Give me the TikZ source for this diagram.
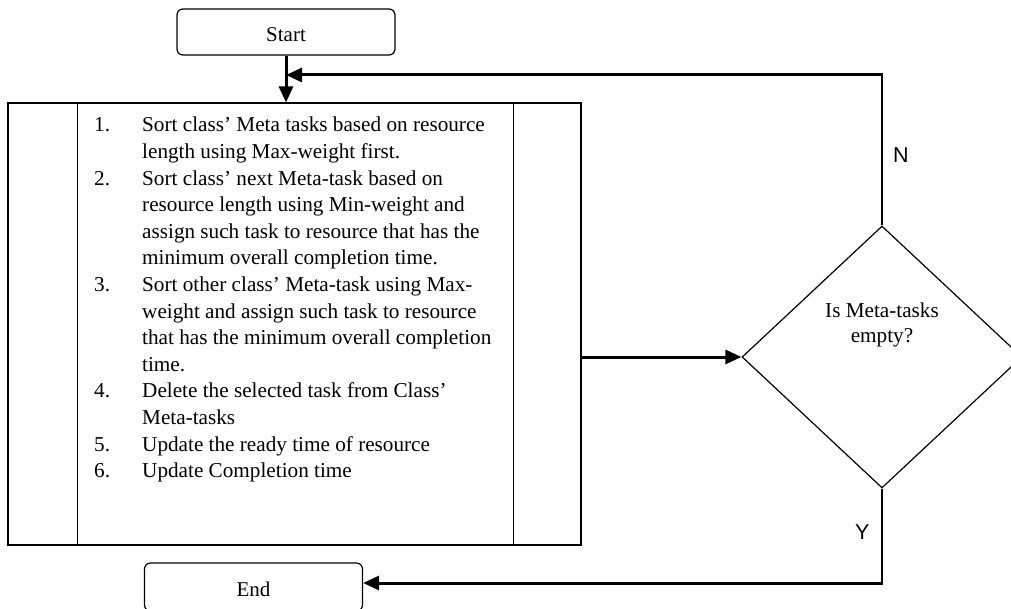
\documentclass[tikz,border=0pt]{standalone}
\usepackage{fontspec}
\setmainfont{Liberation Serif}
\newfontfamily\labelfont{Liberation Sans}
\usetikzlibrary{shapes.geometric,arrows.meta,calc}
\begin{document}
\begin{tikzpicture}[x=1pt,y=-1pt,
  thinline/.style={line width=1.2pt},
  flow/.style={line width=3pt,-{Triangle[length=16pt,width=14pt]}},
  rbox/.style={draw,line width=1.2pt,rounded corners=6pt,minimum width=218pt,minimum height=46pt,inner sep=0pt,text height=19pt,text depth=0pt,font=\fontsize{21}{26.6}\selectfont},
  txt/.style={font=\fontsize{21.2}{26.6}\selectfont,inner sep=0pt},
  yn/.style={font=\labelfont\fontsize{21.5}{25}\selectfont,inner sep=0pt}]
\useasboundingbox (0,0) rectangle (1011,609);
% terminals
\node[rbox] (start) at (286,32) {Start};
\node[rbox,minimum height=48pt] (endb) at (253.5,587) {End};
% process box
\node[draw,thinline,minimum width=573pt,minimum height=442pt,inner sep=0pt] (proc) at (294.5,324) {};
\draw[thinline] ([xshift=70pt]proc.north west) -- ([xshift=70pt]proc.south west);
\draw[thinline] ([xshift=-68pt]proc.north east) -- ([xshift=-68pt]proc.south east);
\node[txt,anchor=base west] (steps) at (94,132) {%
\begin{tabular}[t]{@{}p{48pt}@{}l@{}}
1. & Sort class’ Meta tasks based on resource\\
   & length using Max-weight first.\\
2. & Sort class’ next Meta-task based on\\
   & resource length using Min-weight and\\
   & assign such task to resource that has the\\
   & minimum overall completion time.\\
3. & Sort other class’ Meta-task using Max-\\
   & weight and assign such task to resource\\
   & that has the minimum overall completion\\
   & time.\\
4. & Delete the selected task from Class’\\
   & Meta-tasks\\
5. & Update the ready time of resource\\
6. & Update Completion time
\end{tabular}};
% decision
\node[draw,thinline,diamond,minimum width=280pt,minimum height=262pt,inner sep=0pt] (dec) at (882,357) {};
\node[txt,align=center,font=\fontsize{21.2}{25}\selectfont] (dectxt) at (882,325) {Is Meta-tasks\\empty?};
% connectors
\draw[flow] (start.south) -- (start.south |- proc.north);
\draw[flow] (proc.east |- dec.west) -- (dec.west);
\coordinate (cN) at (882,75);
\draw[thinline] (dec.north) -- (cN);
\draw[flow] ([xshift=0.6pt]cN) -- (cN -| start.south);
\coordinate (cY) at (882,583);
\draw[thinline] (dec.south) -- (cY);
\draw[flow] ([xshift=0.6pt]cY) -- (cY -| endb.east);
\node[yn,anchor=base west] (nlab) at (893,163) {N};
\node[yn,anchor=base west] (ylab) at (855,539) {Y};
\end{tikzpicture}
\end{document}
